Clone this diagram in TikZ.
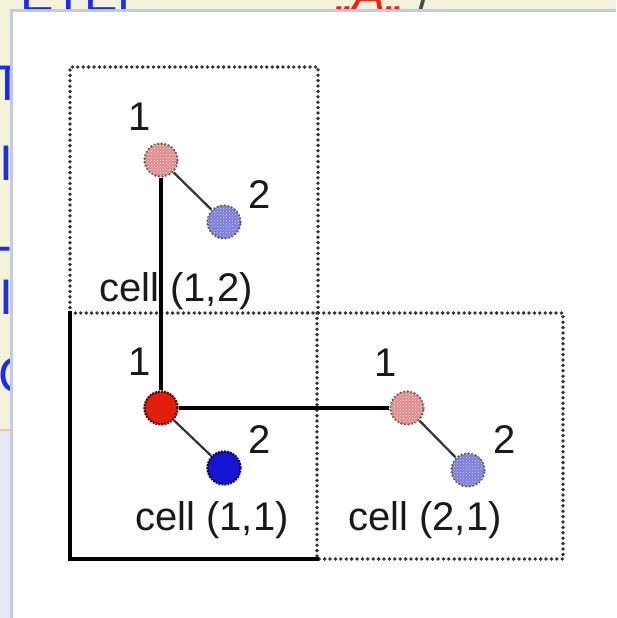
\documentclass[tikz,border=0pt]{standalone}
\usepackage{fontspec}
\setmainfont{Liberation Sans}
\usetikzlibrary{patterns}
\definecolor{cream}{HTML}{F5F2DC}
\definecolor{panelline}{HTML}{C5C9E8}
\definecolor{lav}{HTML}{E8E8F4}
\definecolor{tan}{HTML}{E8C8A0}
\definecolor{slideblue}{HTML}{1A2CF0}
\definecolor{slidered}{HTML}{F02010}
\definecolor{pinkatom}{HTML}{E08C8C}
\definecolor{paleblue}{HTML}{7C7CDA}
\definecolor{redatom}{HTML}{E01E0A}
\definecolor{blueatom}{HTML}{1414D2}
\begin{document}
\begin{tikzpicture}[x=1pt,y=-1pt,
  cellbox/.style={line width=3.8pt, dash pattern=on 0pt off 5.4pt, line cap=round, black!80},
  solidedge/.style={line width=3.8pt, line cap=rect},
  bond/.style={line width=3.2pt},
  thinbond/.style={line width=2.2pt, black!80},
  atom/.style={circle, minimum size=33pt, inner sep=0pt},
  hatchred/.style={atom, fill=pinkatom, draw=black!65, line width=2.6pt, dash pattern=on 0pt off 3.6pt, line cap=round,
     postaction={pattern=crosshatch dots, pattern color=white!75!pinkatom}},
  hatchblue/.style={atom, fill=paleblue, draw=black!65, line width=2.6pt, dash pattern=on 0pt off 3.6pt, line cap=round,
     postaction={pattern=crosshatch dots, pattern color=white!65!paleblue}},
  solidred/.style={atom, fill=redatom, draw=red!35!black, line width=2.2pt, dash pattern=on 2pt off 1pt},
  solidblue/.style={atom, fill=blueatom, draw=blue!35!black, line width=2.2pt, dash pattern=on 2pt off 1pt},
  lbl/.style={font=\fontsize{40}{44}\selectfont, text=black!90, inner sep=0pt},
  slide/.style={font=\fontsize{50}{54}\selectfont, inner sep=0pt}
]
\useasboundingbox (0,0) rectangle (616,618);
% slide background
\fill[cream] (0,0) rectangle (616,618);
\node[slide, text=slideblue, anchor=base west] (t1) at (20,12) {ETEP};
\node[slide, text=slidered, anchor=base west, font=\fontsize{50}{54}\selectfont\itshape] (t2) at (336,12) {,,A,,};
\node[slide, text=black!70, anchor=base west] (t3) at (418,12) {/};
\node[slide, text=slideblue, anchor=north] (l1) at (8,66) {T};
\node[slide, text=slideblue, anchor=north] (l2) at (6,146) {I};
\node[slide, text=slideblue, anchor=base] (l3) at (4,262) {-};
\node[slide, text=slideblue, anchor=north] (l4) at (6,280) {I};
\node[slide, text=slideblue, anchor=north west] (l5) at (-2,357) {C};
\fill[lav] (0,430) rectangle (12,618);
\draw[tan, line width=1.5pt] (0,430) -- (12,430);
% panel
\fill[white] (11,11) rectangle (616,618);
\draw[panelline, line width=3pt] (11,618) -- (11,11) -- (616,11);

% cells
\draw[cellbox] (70,313) -- (70,67) -- (318,67) -- (318,313);
\draw[cellbox] (70,313) -- (563,313) -- (563,559) -- (317,559);
\draw[cellbox] (317,313) -- (317,559);
\draw[solidedge] (70,313) -- (70,559) -- (317,559);

% atoms
\node[hatchred] (a12) at (161,160) {};
\node[hatchblue] (b12) at (224,222) {};
\node[solidred] (a11) at (161,408) {};
\node[solidblue] (b11) at (224,468) {};
\node[hatchred] (a21) at (407,408) {};
\node[hatchblue] (b21) at (468,470) {};

% bonds
\draw[bond] (a12) -- (a11);
\draw[bond] (a11) -- (a21);
\draw[thinbond] (a12) -- (b12);
\draw[thinbond] (a11) -- (b11);
\draw[thinbond] (a21) -- (b21);

% labels
\node[lbl] (n1a) at (140,117) {1};
\node[lbl] (n2a) at (260,195) {2};
\node[lbl] (n1b) at (140,362) {1};
\node[lbl] (n2b) at (260,440) {2};
\node[lbl] (n1c) at (386,363) {1};
\node[lbl] (n2c) at (505,440) {2};
\node[lbl] (c12) at (176,291) {cell (1,2)};
\node[lbl] (c11) at (212,520) {cell (1,1)};
\node[lbl] (c21) at (425,520) {cell (2,1)};
\end{tikzpicture}
\end{document}
